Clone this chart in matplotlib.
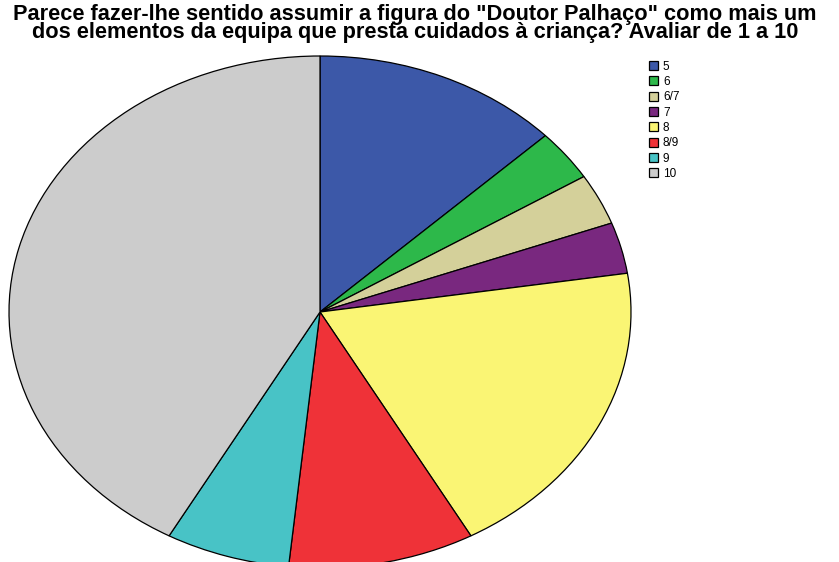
import matplotlib.pyplot as plt

labels = ['5', '6', '6/7', '7', '8', '8/9', '9', '10']
counts = [4, 1, 1, 1, 6, 3, 2, 13]
colors = ['#3C58A8', '#2DB84A', '#D4D09A', '#79287F', '#FAF574', '#EF3238', '#48C3C6', '#CCCCCC']

plt.rcParams['font.family'] = ['Liberation Sans', 'DejaVu Sans']

fig = plt.figure(figsize=(8.39, 5.62), dpi=100)
W, H = 839, 562
# elliptical pie: left 9px, right 631px, top 56px, bottom 568px
ax = fig.add_axes([9 / W, (H - 568) / H, 622 / W, 512 / H])
wedges, _ = ax.pie(counts, colors=colors, startangle=90, counterclock=False,
                   wedgeprops={'edgecolor': 'black', 'linewidth': 0.9})
ax.set_aspect('auto')
ax.set_xlim(-1, 1)
ax.set_ylim(-1, 1)

fig.text(415 / W, 1 - 4 / H,
         'Parece fazer-lhe sentido assumir a figura do "Doutor Palhaço" como mais um\n'
         'dos elementos da equipa que presta cuidados à criança? Avaliar de 1 a 10',
         ha='center', va='top', fontsize=15.7, fontweight='bold', linespacing=0.8)

fig.legend(wedges, labels, loc='upper left', bbox_to_anchor=(644 / W, 1 - 56 / H),
           frameon=False, fontsize=8.5, handlelength=0.8, handleheight=0.8,
           labelspacing=0.28, handletextpad=0.4, borderaxespad=0)

fig.savefig('out.png', dpi=100)
